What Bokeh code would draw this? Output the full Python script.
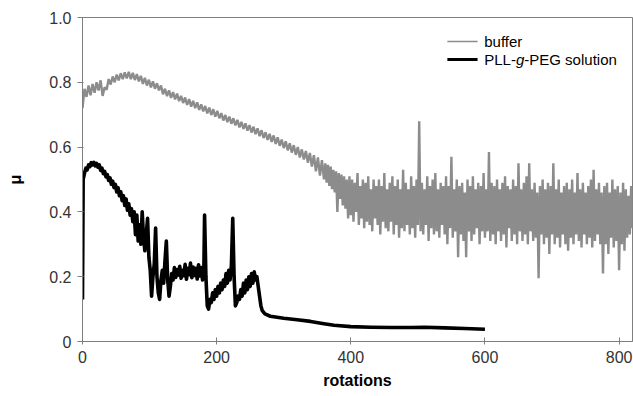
from bokeh.plotting import figure
from bokeh.models import Range1d, FixedTicker, Label
from bokeh.embed import file_html
from bokeh.resources import INLINE

# ---- data ----
# buffer, rotations 0 .. 357 read every 3 rotations
buffer_mu_early = [
    0.72, 0.78, 0.755, 0.79, 0.76, 0.795, 0.768, 0.80, 0.775, 0.806,
    0.758, 0.785, 0.777, 0.81, 0.793, 0.818, 0.80, 0.824, 0.806, 0.828,
    0.81, 0.831, 0.812, 0.832, 0.81, 0.829, 0.807, 0.825, 0.803, 0.82,
    0.795, 0.814, 0.79, 0.808, 0.784, 0.803, 0.78, 0.797, 0.775, 0.79,
    0.763, 0.78, 0.757, 0.775, 0.752, 0.77, 0.747, 0.765, 0.742, 0.758,
    0.736, 0.753, 0.73, 0.748, 0.725, 0.743, 0.72, 0.738, 0.715, 0.732,
    0.71, 0.727, 0.704, 0.722, 0.699, 0.717, 0.694, 0.712, 0.689, 0.705,
    0.682, 0.699, 0.677, 0.694, 0.672, 0.689, 0.667, 0.684, 0.661, 0.678,
    0.656, 0.673, 0.651, 0.668, 0.645, 0.663, 0.64, 0.658, 0.634, 0.652,
    0.628, 0.646, 0.622, 0.641, 0.616, 0.636, 0.61, 0.63, 0.604, 0.623,
    0.597, 0.618, 0.59, 0.612, 0.583, 0.606, 0.576, 0.60, 0.568, 0.593,
    0.562, 0.588, 0.552, 0.582, 0.54, 0.575, 0.525, 0.568, 0.512, 0.56,
]
# buffer, rotations 360 .. 820 read every 2 rotations (noisy part)
buffer_mu_late = [
    0.50, 0.55, 0.49, 0.545, 0.48, 0.54, 0.47, 0.53, 0.46, 0.525,
    0.40, 0.52, 0.44, 0.515, 0.42, 0.51, 0.41, 0.50, 0.38, 0.51,
    0.39, 0.50, 0.37, 0.49, 0.40, 0.52, 0.36, 0.48, 0.38, 0.50,
    0.35, 0.49, 0.37, 0.51, 0.36, 0.47, 0.34, 0.50, 0.38, 0.48,
    0.36, 0.50, 0.33, 0.48, 0.37, 0.52, 0.35, 0.47, 0.34, 0.49,
    0.37, 0.51, 0.33, 0.48, 0.36, 0.50, 0.32, 0.47, 0.35, 0.53,
    0.34, 0.49, 0.36, 0.47, 0.33, 0.51, 0.35, 0.48, 0.32, 0.50,
    0.36, 0.68, 0.34, 0.49, 0.33, 0.47, 0.36, 0.51, 0.31, 0.48,
    0.35, 0.50, 0.33, 0.52, 0.34, 0.47, 0.32, 0.49, 0.36, 0.48,
    0.33, 0.51, 0.30, 0.48, 0.35, 0.57, 0.32, 0.47, 0.34, 0.50,
    0.26, 0.48, 0.33, 0.49, 0.31, 0.46, 0.26, 0.50, 0.34, 0.48,
    0.31, 0.51, 0.33, 0.47, 0.35, 0.49, 0.30, 0.48, 0.34, 0.52,
    0.32, 0.47, 0.34, 0.585, 0.31, 0.49, 0.33, 0.48, 0.30, 0.50,
    0.34, 0.47, 0.31, 0.49, 0.33, 0.51, 0.29, 0.48, 0.35, 0.47,
    0.31, 0.50, 0.33, 0.48, 0.30, 0.55, 0.34, 0.47, 0.31, 0.49,
    0.33, 0.51, 0.30, 0.55, 0.34, 0.47, 0.31, 0.49, 0.32, 0.46,
    0.195, 0.48, 0.33, 0.50, 0.30, 0.47, 0.32, 0.49, 0.27, 0.48,
    0.33, 0.55, 0.30, 0.47, 0.32, 0.50, 0.29, 0.46, 0.33, 0.48,
    0.30, 0.49, 0.28, 0.47, 0.32, 0.50, 0.30, 0.46, 0.33, 0.52,
    0.31, 0.47, 0.29, 0.49, 0.33, 0.46, 0.30, 0.48, 0.32, 0.50,
    0.29, 0.53, 0.31, 0.47, 0.33, 0.49, 0.30, 0.46, 0.21, 0.48,
    0.30, 0.49, 0.27, 0.46, 0.32, 0.50, 0.29, 0.47, 0.31, 0.48,
    0.22, 0.46, 0.30, 0.49, 0.28, 0.47, 0.32, 0.45, 0.33, 0.48,
    0.35,
]
buffer_rot = [3 * i for i in range(len(buffer_mu_early))] + \
             [360 + 2 * i for i in range(len(buffer_mu_late))]
buffer_mu = buffer_mu_early + buffer_mu_late

# PLL-g-PEG solution
peg_rot = [
    0, 1, 3, 5, 7, 9, 11, 13, 15, 17, 19, 21, 23, 25, 27, 29, 31, 33, 35, 37,
    39, 41, 43, 45, 47, 49, 51, 53, 55, 57, 59, 61, 63, 65, 67, 69, 71, 73, 75, 77,
    79, 81, 83, 85, 87, 89, 91, 93, 95, 97, 99, 101, 103, 105, 107, 109, 111, 113, 115, 117,
    119, 121, 123, 125, 127, 129, 131, 133, 135, 137, 139, 141, 143, 145, 147, 149, 151, 153, 155, 157,
    159, 161, 163, 165, 167, 169, 171, 173, 175, 177, 179, 181, 182, 184, 186, 188, 190, 192, 194, 196,
    198, 200, 202, 204, 206, 208, 210, 212, 214, 216, 218, 220, 222, 224, 226, 228, 230, 232, 234, 236,
    238, 240, 242, 244, 246, 248, 250, 252, 254, 256, 258, 260, 262, 264, 266, 268, 272, 280, 300, 320,
    340, 360, 375, 400, 430, 460, 490, 510, 540, 570, 600,
]
peg_mu = [
    0.13, 0.50, 0.52, 0.535, 0.53, 0.545, 0.54, 0.552, 0.545, 0.553, 0.542, 0.55, 0.538, 0.545, 0.528, 0.535, 0.518, 0.525, 0.508, 0.515,
    0.497, 0.505, 0.485, 0.495, 0.475, 0.485, 0.462, 0.475, 0.45, 0.462, 0.435, 0.45, 0.42, 0.44, 0.405, 0.425, 0.39, 0.41, 0.37, 0.40,
    0.33, 0.39, 0.31, 0.36, 0.30, 0.40, 0.32, 0.28, 0.33, 0.38, 0.26, 0.22, 0.14, 0.20, 0.24, 0.35, 0.20, 0.15, 0.13, 0.19,
    0.22, 0.18, 0.25, 0.31, 0.19, 0.14, 0.17, 0.21, 0.19, 0.228, 0.198, 0.222, 0.205, 0.232, 0.195, 0.22, 0.203, 0.238, 0.192, 0.226,
    0.206, 0.242, 0.197, 0.23, 0.204, 0.226, 0.193, 0.237, 0.202, 0.228, 0.19, 0.235, 0.39, 0.20, 0.11, 0.10, 0.13, 0.12, 0.15, 0.13,
    0.16, 0.14, 0.17, 0.15, 0.18, 0.16, 0.19, 0.17, 0.21, 0.18, 0.22, 0.19, 0.235, 0.38, 0.20, 0.11, 0.12, 0.14, 0.13, 0.16,
    0.14, 0.18, 0.15, 0.19, 0.16, 0.20, 0.17, 0.21, 0.18, 0.215, 0.19, 0.20, 0.17, 0.14, 0.11, 0.095, 0.085, 0.078, 0.072, 0.067,
    0.062, 0.055, 0.05, 0.046, 0.044, 0.043, 0.043, 0.044, 0.042, 0.04, 0.038,
]

x_ticks = [0, 200, 400, 600, 800]
y_ticks = [0, 0.2, 0.4, 0.6, 0.8, 1.0]
y_tick_labels = ["0", "0.2", "0.4", "0.6", "0.8", "1.0"]
series_names = ["buffer", "PLL-", "g", "-PEG solution"]

GRAY = "#8c8c8c"
AXIS = "#7f7f7f"
FONT = "Liberation Sans"

p = figure(width=633, height=396, output_backend="svg", toolbar_location=None,
           x_range=Range1d(0, 820), y_range=Range1d(0, 1),
           min_border_left=82, min_border_right=1, min_border_top=17, min_border_bottom=55)
p.background_fill_color = "white"
p.border_fill_color = "white"
p.outline_line_color = AXIS
p.outline_line_width = 1
p.xgrid.visible = False
p.ygrid.visible = False

p.line(buffer_rot, buffer_mu, line_color=GRAY, line_width=2.4)
p.line(peg_rot, peg_mu, line_color="black", line_width=3.6, line_join="round")

for ax in (p.xaxis[0], p.yaxis[0]):
    ax.axis_line_color = AXIS
    ax.major_tick_line_color = AXIS
    ax.minor_tick_line_color = None
    ax.major_label_text_font = FONT
    ax.major_label_text_font_size = "16px"
    ax.major_label_text_color = "#333333"
    ax.axis_label_text_font = FONT
    ax.axis_label_text_font_size = "16px"
    ax.axis_label_text_font_style = "bold"
    ax.axis_label_text_color = "black"

p.xaxis.ticker = FixedTicker(ticks=x_ticks)
p.xaxis.major_tick_in = 4
p.xaxis.major_tick_out = 3
p.xaxis.major_label_standoff = 6
p.xaxis.axis_label = "rotations"
p.xaxis.axis_label_standoff = 6

p.yaxis.ticker = FixedTicker(ticks=y_ticks)
p.yaxis.major_label_overrides = {t: s for t, s in zip(y_ticks, y_tick_labels)}
p.yaxis.major_tick_in = 1
p.yaxis.major_tick_out = 5
p.yaxis.major_label_standoff = 6
p.yaxis.axis_label = "μ"
p.yaxis.axis_label_standoff = 22

# legend drawn by hand so that "g" can be italic
lx0, lx1, ltx = 544, 589, 599
ly1, ly2 = 0.926, 0.870
p.segment(x0=[lx0], y0=[ly1], x1=[lx1], y1=[ly1], line_color=GRAY, line_width=1.6)
p.segment(x0=[lx0], y0=[ly2], x1=[lx1], y1=[ly2], line_color="black", line_width=3)
common = dict(text_font=FONT, text_font_size="15px", text_color="black", text_baseline="middle")
p.add_layout(Label(x=ltx, y=ly1, text=series_names[0], **common))
p.add_layout(Label(x=ltx, y=ly2, text=series_names[1], **common))
p.add_layout(Label(x=ltx, y=ly2, x_offset=31.7, text=series_names[2], text_font_style="italic", **common))
p.add_layout(Label(x=ltx, y=ly2, x_offset=40, text=series_names[3], **common))

open("out.html", "w").write(file_html(p, INLINE))
